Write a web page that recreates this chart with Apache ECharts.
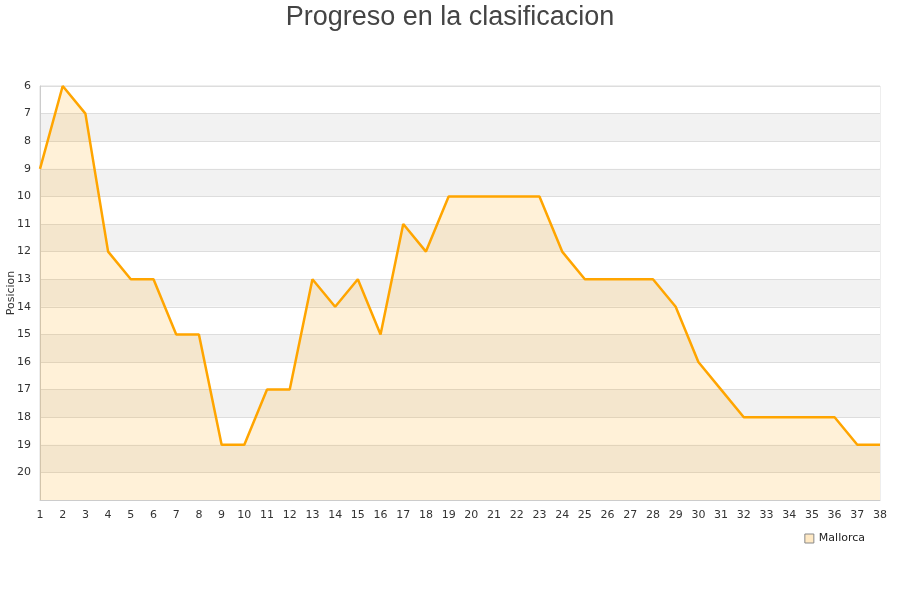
<!DOCTYPE html>
<html><head><meta charset="utf-8">
<script src="https://cdn.jsdelivr.net/npm/echarts@6/dist/echarts.min.js"></script>
<style>html,body{margin:0;padding:0;background:#fff}#c{width:900px;height:600px}</style>
</head><body><div id="c"></div>
<script>
const jornadas = ['1','2','3','4','5','6','7','8','9','10','11','12','13','14','15','16','17','18','19','20','21','22','23','24','25','26','27','28','29','30','31','32','33','34','35','36','37','38'];
const posicion = [9,6,7,12,13,13,15,15,19,19,17,17,13,14,13,15,11,12,10,10,10,10,10,12,13,13,13,13,14,16,17,18,18,18,18,18,19,19];
const seriesName = 'Mallorca';
const titleText = 'Progreso en la clasificacion';
const yName = 'Posicion';

const chart = echarts.init(document.getElementById('c'));
chart.setOption({
  animation: false,
  title: { text: titleText, left: 'center', top: -1, textStyle: { fontFamily: 'Liberation Sans', fontSize: 27, fontWeight: 'normal', color: '#444' } },
  grid: { left: 40, right: 20, top: 86, bottom: 100, outerBoundsMode: 'none', containLabel: false,
    show: true, borderColor: '#ddd', borderWidth: 1, backgroundColor: 'transparent' },
  legend: { data: [seriesName], right: 30, top: 528, icon: 'rect', itemWidth: 9, itemHeight: 9, itemGap: 8,
    itemStyle: { color: '#ffe9c4', borderColor: '#888', borderWidth: 1 },
    textStyle: { fontFamily: 'DejaVu Sans', fontSize: 11, color: '#222' } },
  graphic: [{ type: 'text', x: 11, y: 293, rotation: Math.PI / 2,
    style: { text: yName, fontFamily: 'DejaVu Sans', fontSize: 11, fill: '#333', align: 'center', verticalAlign: 'middle' } }],
  xAxis: { type: 'category', data: jornadas, boundaryGap: false,
    axisLine: { lineStyle: { color: '#ccc' } }, axisTick: { show: false },
    axisLabel: { interval: 0, color: '#333', fontFamily: 'DejaVu Sans', fontSize: 11, margin: 10 },
    splitLine: { show: false } },
  yAxis: { type: 'value', inverse: true, min: 6, max: 21, interval: 1,
    axisLine: { show: true, lineStyle: { color: '#ccc' } }, axisTick: { show: false },
    axisLabel: { color: '#333', fontFamily: 'DejaVu Sans', fontSize: 11, margin: 9,
      formatter: v => (v >= 21 ? '' : String(v)) },
    splitLine: { show: true, lineStyle: { color: '#ddd' } },
    splitArea: { show: true, areaStyle: { color: ['#ffffff', '#f2f2f2'] } } },
  series: [{
    name: seriesName, type: 'line', data: posicion, symbol: 'none',
    lineStyle: { color: '#ffa500', width: 2.5 },
    itemStyle: { color: '#ffe9c4', borderColor: '#888' },
    areaStyle: { color: 'rgba(255,165,0,0.22)', origin: 'end' }
  }]
});
</script></body></html>
